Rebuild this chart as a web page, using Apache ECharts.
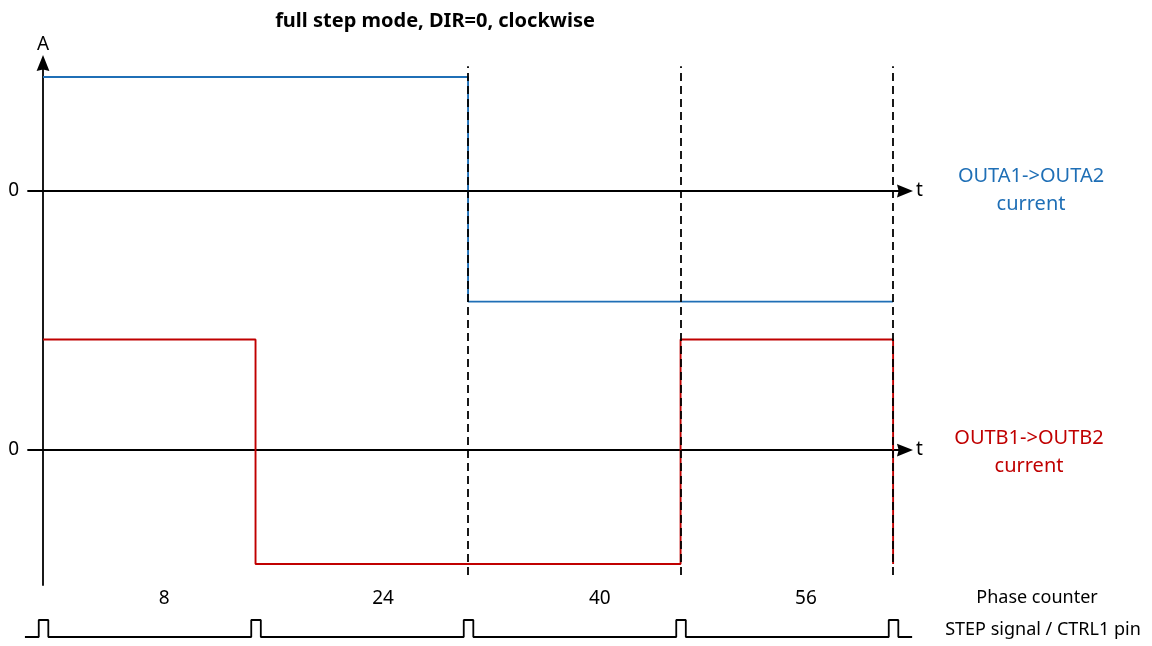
<!DOCTYPE html>
<html>
<head>
<meta charset="utf-8">
<script src="https://cdn.jsdelivr.net/npm/echarts@6/dist/echarts.min.js"></script>
<style>
html,body{margin:0;padding:0;background:#fff;}
#chart{width:1152px;height:646px;}
</style>
</head>
<body>
<div id="chart"></div>
<script>
// ---- data ----
var stepTimes = [0, 1, 2, 3, 4];
var outACurrent = [1, 1, -0.97, -0.97, -0.97];
var outBCurrent = [0.97, -1, -1, 0.97, -1];
var boundaryTimes = [2, 3, 4];
var phaseTimes = [0.57, 1.6, 2.62, 3.59];
var phaseLabels = ['8', '24', '40', '56'];
var stepSignalTimes = [-0.085, -0.02, 0.025, 0.98, 1.025, 1.98, 2.025, 2.98, 3.025, 3.98, 4.025, 4.09];
var stepSignalLevels = [0, 1, 0, 1, 0, 1, 0, 1, 0, 1, 0, 0];

var FONT = '"Noto Sans", sans-serif';
var BLUE = '#1f6fb6';
var RED = '#c00000';
var ARROW = 'path://M6,0 L12,15 L6,13.5 L0,15 Z';

function zip(xs, ys) { return xs.map(function (x, i) { return [x, ys[i]]; }); }

var chart = echarts.init(document.getElementById('chart'), null, {renderer: 'canvas'});

function zeroXAxis(pos, yIdx) {
  return {gridIndex: 0, type: 'value', min: -0.0706, max: 4.056, position: pos,
    axisLine: {show: true, onZero: true, onZeroAxisIndex: yIdx, symbol: ['none', ARROW], symbolSize: [14, 16],
      lineStyle: {color: '#000', width: 1.8}},
    name: 't', nameLocation: 'end', nameGap: 11,
    nameTextStyle: {fontFamily: FONT, fontSize: 19, color: '#000', verticalAlign: 'middle'},
    axisTick: {show: false}, axisLabel: {show: false}, splitLine: {show: false}};
}

var option = {
  animation: false,
  backgroundColor: '#fff',
  grid: [
    {left: 28, right: 247, top: 63, bottom: 61},
    {left: 25, right: 240, top: 586, bottom: 9}
  ],
  xAxis: [
    zeroXAxis('top', 1),
    zeroXAxis('bottom', 2),
    {gridIndex: 1, type: 'value', min: -0.0847, max: 4.0894, show: false}
  ],
  yAxis: [
    {gridIndex: 0, type: 'value', min: 0, max: 1, position: 'left',
     axisLine: {show: true, onZero: true, onZeroAxisIndex: 0, symbol: ['none', ARROW], symbolSize: [14, 16],
       lineStyle: {color: '#000', width: 1.8}},
     name: 'A', nameLocation: 'end', nameGap: 9,
     nameTextStyle: {fontFamily: FONT, fontSize: 19, color: '#000'},
     axisTick: {show: false}, axisLabel: {show: false}, splitLine: {show: false}},
    {gridIndex: 0, type: 'value', min: -3.456, max: 1.123, position: 'left',
     axisLine: {show: false, onZero: false}, axisTick: {show: false}, splitLine: {show: false},
     axisLabel: {show: true, customValues: [0], margin: 9, fontFamily: FONT, fontSize: 19, color: '#000'}},
    {gridIndex: 0, type: 'value', min: -1.184, max: 3.395, position: 'left',
     axisLine: {show: false, onZero: false}, axisTick: {show: false}, splitLine: {show: false},
     axisLabel: {show: true, customValues: [0], margin: 9, fontFamily: FONT, fontSize: 19, color: '#000'}},
    {gridIndex: 1, type: 'value', min: 0, max: 3, show: false}
  ],
  series: [
    {name: 'OUTA1->OUTA2 current', type: 'line', xAxisIndex: 0, yAxisIndex: 1, step: 'end',
     data: zip(stepTimes, outACurrent), showSymbol: false, symbol: 'none',
     lineStyle: {color: BLUE, width: 1.9}, z: 2},
    {name: 'OUTB1->OUTB2 current', type: 'line', xAxisIndex: 1, yAxisIndex: 2, step: 'end',
     data: zip(stepTimes, outBCurrent), showSymbol: false, symbol: 'none',
     lineStyle: {color: RED, width: 1.9}, z: 2},
    {name: 'boundaries', type: 'line', xAxisIndex: 0, yAxisIndex: 0, data: [], z: 5,
     markLine: {silent: true, symbol: ['none', 'none'], label: {show: false}, z: 6,
       lineStyle: {color: '#000', width: 1.8, type: [8, 5]},
       data: boundaryTimes.map(function (t) { return [{coord: [t, 0.019]}, {coord: [t, 0.994]}]; })}},
    {name: 'STEP signal', type: 'line', xAxisIndex: 2, yAxisIndex: 3, step: 'end',
     data: zip(stepSignalTimes, stepSignalLevels), showSymbol: false, symbol: 'none',
     lineStyle: {color: '#000', width: 1.8}},
    {name: 'Phase counter', type: 'scatter', xAxisIndex: 2, yAxisIndex: 3, symbolSize: 0,
     itemStyle: {opacity: 1},
     data: phaseTimes.map(function (t, i) { return {value: [t, 2.25], name: phaseLabels[i]}; }),
     label: {show: true, position: 'inside', formatter: '{b}', fontFamily: FONT, fontSize: 19, color: '#000', opacity: 1}}
  ],
  graphic: [
    {type: 'text', x: 435, y: 21, style: {text: 'full step mode, DIR=0, clockwise', fontFamily: FONT, fontWeight: 'bold', fontSize: 20, fill: '#000', textAlign: 'center', textVerticalAlign: 'middle'}},
    {type: 'text', x: 1031, y: 190, style: {text: 'OUTA1->OUTA2\ncurrent', lineHeight: 28, fontFamily: FONT, fontSize: 20, fill: BLUE, textAlign: 'center', textVerticalAlign: 'middle'}},
    {type: 'text', x: 1029, y: 452, style: {text: 'OUTB1->OUTB2\ncurrent', lineHeight: 28, fontFamily: FONT, fontSize: 20, fill: RED, textAlign: 'center', textVerticalAlign: 'middle'}},
    {type: 'text', x: 1037, y: 598, style: {text: 'Phase counter', fontFamily: FONT, fontSize: 18, fill: '#000', textAlign: 'center', textVerticalAlign: 'middle'}},
    {type: 'text', x: 1043, y: 630, style: {text: 'STEP signal / CTRL1 pin', fontFamily: FONT, fontSize: 18, fill: '#000', textAlign: 'center', textVerticalAlign: 'middle'}}
  ]
};
chart.setOption(option);
</script>
</body>
</html>
